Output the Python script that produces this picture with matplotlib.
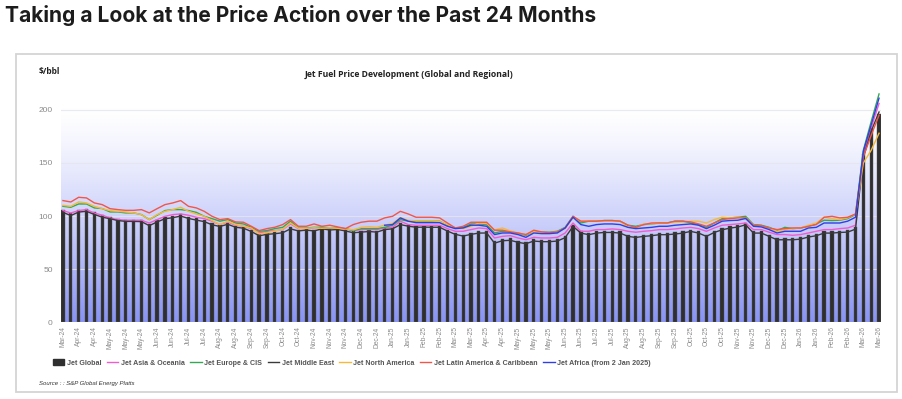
import numpy as np
import matplotlib
matplotlib.use("Agg")
import matplotlib.pyplot as plt
from matplotlib.patches import Rectangle
from matplotlib.lines import Line2D
from matplotlib.patches import Patch

# ---------------- data ----------------
tick_labels = ["Mar-24","Apr-24","Apr-24","May-24","May-24","May-24","Jun-24","Jun-24","Jul-24","Jul-24",
               "Aug-24","Aug-24","Sep-24","Sep-24","Oct-24","Oct-24","Nov-24","Nov-24","Nov-24","Dec-24",
               "Dec-24","Jan-25","Jan-25","Feb-25","Feb-25","Mar-25","Mar-25","Apr-25","Apr-25","May-25",
               "May-25","May-25","Jun-25","Jun-25","Jul-25","Jul-25","Aug-25","Aug-25","Sep-25","Sep-25",
               "Oct-25","Oct-25","Oct-25","Nov-25","Nov-25","Dec-25","Dec-25","Jan-26","Jan-26","Feb-26",
               "Feb-26","Mar-26","Mar-26"]

jet_global = [105.8, 102.6, 105.5, 106.5, 103.5, 101.1, 99.5, 97.5, 96.5, 96.5, 96.3, 92.3, 96.3, 99.3, 100.2,
              101.8, 99.3, 97.9, 96.3, 93.2, 91.7, 93.8, 91.0, 90.1, 87.0, 82.9,
              84.2, 84.8, 85.7, 89.4, 87.3, 88.2, 87.3, 89.4, 88.2, 88.8, 87.3, 85.7, 86.3, 86.9, 86.3, 88.8,
              89.4, 93.5, 92.0, 91.0, 91.0, 91.0, 91.0, 87.3, 84.2, 82.6, 84.2,
              85.7, 85.7, 76.3, 78.5, 78.9, 77.0, 75.7, 78.2, 77.6, 77.6, 78.2, 81.4, 92.0, 85.7, 84.2, 85.7,
              86.3, 86.3, 85.7, 82.6, 81.6, 82.6, 83.2, 84.2, 84.2, 84.8, 85.7,
              87.3, 85.7, 82.6, 86.3, 88.8, 90.4, 91.4, 93.5, 85.7, 85.7, 82.6, 79.4, 79.4, 79.4, 80.0, 82.0,
              83.2, 85.7, 85.7, 86.3, 86.6, 89.4, 158.0, 183.0, 196.0]

jet_asia = [105.2, 102.9, 105.2, 106.1, 102.9, 100.8, 98.3, 96.7, 96.1, 96.1, 96.1, 93.5, 96.7, 99.8, 101.4,
            102.0, 100.8, 98.9, 97.6, 95.2, 92.0, 94.5, 91.4, 90.4, 88.2, 84.1, 85.7,
            86.3, 87.3, 92.6, 88.2, 88.2, 88.8, 89.4, 88.2, 88.8, 88.2, 86.3, 87.3, 87.3, 87.3, 88.8, 89.4,
            95.2, 92.0, 91.4, 91.4, 91.4, 91.4, 88.2, 85.7, 85.7, 87.3,
            88.8, 88.2, 79.4, 80.9, 81.6, 79.4, 77.8, 80.0, 79.4, 79.4, 80.0, 84.1, 93.5, 85.7, 85.7, 87.3,
            87.3, 87.9, 87.3, 85.7, 84.8, 85.7, 86.3, 87.3, 87.3, 87.9, 88.8,
            89.4, 88.2, 85.7, 88.8, 91.4, 92.0, 92.6, 93.5, 87.3, 87.3, 84.8, 82.6, 82.6, 81.9, 82.6, 84.1,
            85.7, 87.3, 87.3, 88.2, 88.8, 91.4, 158.0, 183.0, 206.0]

jet_europe = [109.2, 108.3, 111.4, 111.4, 107.7, 107.1, 103.9, 103.9, 103.0, 103.0, 101.4, 96.7, 100.8, 105.2,
              106.1, 106.1, 105.2, 103.5, 99.8, 97.6, 95.2, 96.7, 93.5, 92.6, 89.4, 85.7, 86.3,
              88.2, 89.4, 95.2, 88.8, 88.8, 89.4, 89.4, 88.8, 88.8, 88.2, 86.3, 88.2, 88.2, 88.2, 89.4, 91.4,
              96.7, 95.2, 95.2, 95.2, 95.2, 95.2, 91.4, 88.8, 89.4, 92.6,
              92.6, 92.0, 84.1, 85.7, 85.1, 83.8, 81.9, 85.7, 84.8, 84.8, 85.7, 89.4, 99.8, 93.5, 95.2, 95.2,
              95.8, 95.8, 95.2, 91.4, 90.4, 92.0, 92.6, 93.5, 93.5, 95.2, 95.2,
              93.5, 92.0, 89.4, 93.5, 97.6, 98.3, 98.9, 99.8, 92.0, 91.4, 89.4, 86.3, 89.4, 88.2, 88.8, 90.4,
              92.6, 96.1, 95.8, 96.1, 97.6, 101.4, 162.0, 189.0, 215.0]

jet_middle_east = [103.5, 100.5, 103.8, 104.5, 101.5, 99.0, 97.5, 95.8, 95.0, 95.0, 94.8, 91.0, 94.5, 97.5,
                   98.5, 100.0, 97.8, 96.2, 94.8, 91.8, 90.2, 92.3, 89.5, 88.6, 85.5, 81.5,
                   82.8, 83.4, 84.3, 88.0, 86.0, 86.8, 86.0, 88.0, 86.9, 87.4, 86.0, 84.3, 84.9, 85.5, 84.9,
                   87.3, 88.0, 92.0, 90.5, 89.5, 89.6, 89.5, 89.5, 85.9, 82.8, 81.2, 82.8,
                   84.0, 84.1, 74.5, 76.8, 77.2, 75.3, 74.0, 76.5, 75.9, 75.9, 76.5, 79.7, 90.3, 84.0, 82.5,
                   84.0, 84.6, 84.6, 84.0, 80.9, 79.9, 80.9, 81.5, 82.5, 82.5, 83.1, 84.0,
                   85.6, 84.0, 80.9, 84.6, 87.1, 88.7, 89.7, 91.8, 84.0, 84.0, 80.9, 77.7, 77.7, 77.7, 78.3,
                   80.3, 81.5, 84.0, 84.0, 84.6, 84.9, 87.7, 155.0, 180.0, 198.0]

jet_north_america = [110.1, 109.2, 113.3, 112.4, 109.2, 107.0, 105.2, 104.5, 103.9, 103.0, 101.4, 96.7, 101.4,
                     104.5, 106.1, 108.3, 104.5, 102.0, 99.8, 95.8, 92.0, 95.2, 92.0, 90.4, 88.8, 83.2, 84.1,
                     86.0, 87.5, 93.5, 88.5, 88.5, 89.0, 88.5, 89.0, 88.5, 88.0, 87.0, 89.4, 90.0, 89.4, 91.5,
                     93.0, 98.6, 96.0, 95.5, 95.5, 95.5, 95.0, 92.0, 88.8, 88.2, 90.4,
                     93.5, 93.0, 87.0, 88.8, 86.0, 84.1, 82.6, 85.5, 84.5, 84.5, 85.1, 88.5, 98.3, 95.2, 95.2,
                     95.2, 95.5, 95.5, 95.2, 89.5, 89.0, 92.6, 92.8, 93.2, 93.5, 94.2, 94.5,
                     95.2, 95.2, 93.5, 96.7, 98.9, 98.3, 98.9, 98.3, 91.4, 90.4, 88.8, 85.7, 87.3, 88.2, 88.8,
                     91.4, 93.5, 98.9, 97.6, 96.7, 98.3, 102.0, 150.0, 162.0, 178.0]

jet_latin_america = [114.6, 113.3, 117.7, 117.1, 112.4, 110.8, 107.0, 106.1, 105.4, 105.4, 106.1, 103.0, 107.0,
                     110.8, 112.4, 114.6, 109.2, 107.7, 104.5, 99.8, 96.7, 97.6, 94.5, 94.2, 90.4, 86.3, 88.2,
                     89.5, 92.0, 96.7, 90.4, 90.4, 92.6, 90.4, 91.4, 89.8, 88.2, 92.0, 94.2, 95.2, 95.2, 98.3,
                     99.8, 104.5, 102.0, 98.9, 98.9, 98.9, 98.3, 93.5, 88.8, 90.4, 94.2,
                     94.2, 94.2, 86.7, 86.7, 85.1, 84.1, 82.6, 86.7, 85.1, 84.4, 85.1, 88.8, 99.8, 95.2, 95.2,
                     95.2, 95.8, 95.8, 95.2, 91.4, 89.4, 92.0, 93.5, 93.5, 93.5, 95.2, 95.2,
                     94.5, 92.6, 90.4, 93.5, 96.7, 97.6, 98.3, 98.3, 91.4, 91.1, 88.8, 87.3, 88.2, 88.8, 88.8,
                     90.4, 92.0, 98.9, 99.8, 98.3, 98.9, 102.0, 156.0, 176.0, 195.0]

jet_africa = [None] * 41 + [
    91.4, 92.0, 98.3, 95.2, 93.8, 93.8, 93.8, 93.8, 90.4, 88.2, 88.8, 91.4,
    91.4, 90.4, 82.6, 84.1, 84.1, 82.6, 80.0, 84.1, 83.5, 83.5, 84.1, 88.8, 98.9, 92.0, 90.4, 92.0,
    92.6, 92.6, 92.0, 89.4, 88.2, 88.8, 89.4, 90.4, 90.4, 91.4, 92.0,
    92.6, 91.4, 88.2, 91.4, 95.2, 95.8, 96.1, 97.7, 90.4, 89.8, 87.3, 84.1, 85.7, 85.7, 85.7, 88.8,
    89.4, 93.5, 93.5, 93.5, 95.2, 98.9, 161.0, 186.0, 211.0]

series = [
    ("Jet Asia & Oceania", jet_asia, "#f25ccf"),
    ("Jet Europe & CIS", jet_europe, "#34a853"),
    ("Jet Middle East", jet_middle_east, "#3a3a3a"),
    ("Jet North America", jet_north_america, "#f6b93b"),
    ("Jet Latin America & Caribbean", jet_latin_america, "#f0564a"),
    ("Jet Africa (from 2 Jan 2025)", jet_africa, "#2f3fe6"),
]

# ---------------- figure ----------------
W, H = 902, 399
fig = plt.figure(figsize=(W / 100, H / 100), dpi=100)
fig.patch.set_facecolor("white")

def fx(px):
    return px / W

def fy(py):
    return 1 - py / H

# page title
fig.text(fx(5), fy(16), "Taking a Look at the Price Action over the Past 24 Months",
         fontsize=15.1, fontweight="bold", family="Inter", color="#1c1c1c", va="center", ha="left")

# chart card frame
card = Rectangle((fx(16), fy(392)), fx(897) - fx(16), fy(54) - fy(392), transform=fig.transFigure,
                 facecolor="white", edgecolor="#d4d4d4", linewidth=1.3, zorder=-5)
fig.patches.append(card)

fig.text(fx(39), fy(71), "$/bbl", fontsize=6, fontweight="bold", family="Open Sans",
         color="#222222", va="center", ha="left")
fig.text(fx(409), fy(74), "Jet Fuel Price Development (Global and Regional)", fontsize=6.2,
         fontweight="bold", family="Open Sans", color="#222222", va="center", ha="center")

# axes
left, right, top, bottom = 61, 881, 100, 322.3
ax = fig.add_axes([fx(left), fy(bottom), fx(right) - fx(left), fy(top) - fy(bottom)])
ax.set_zorder(2)
ax.patch.set_alpha(0)
n = len(jet_global)
x = np.arange(n)
ymax = 209.3
ax.set_xlim(-0.25, n - 1 + 0.25)
ax.set_ylim(0, ymax)

# gradient background: white above 200, deepening towards 0
vals_y = np.linspace(ymax, 0, 400)
t = np.clip((200 - vals_y) / 200, 0, 1) ** 1.3
top_c = np.array([1.0, 1.0, 1.0])
bot_c = np.array([136, 147, 244]) / 255
img = top_c[None, None, :] * (1 - t[:, None, None]) + bot_c[None, None, :] * t[:, None, None]
ax.imshow(img, extent=[-0.25, n - 1 + 0.25, 0, ymax], aspect="auto", origin="upper", zorder=0)

for gy in [50, 100, 150, 200]:
    ax.axhline(gy, color="#e6e6ee", lw=0.8, zorder=1, alpha=0.85)

ax.bar(x, jet_global, width=0.42, color="#2f2f2f", edgecolor="#5a5a5a", linewidth=0.3, zorder=2)

for name, vals, col in series:
    v = np.array([np.nan if a is None else a for a in vals], dtype=float)
    ax.plot(x, v, color=col, lw=1.0, zorder=3, clip_on=False, solid_joinstyle="round")

for s in ax.spines.values():
    s.set_visible(False)
ax.set_yticks([0, 50, 100, 150, 200])
ax.set_yticklabels(["0", "50", "100", "150", "200"])
ax.set_xticks(x[::2])
ax.set_xticklabels(tick_labels, rotation=90)
ax.tick_params(axis="y", length=0, pad=6, labelsize=6, labelcolor="#8a8a8a")
ax.tick_params(axis="x", length=0, pad=3, labelsize=4.8, labelcolor="#8a8a8a")
for tl in ax.get_yticklabels() + ax.get_xticklabels():
    tl.set_family("Liberation Sans")

# legend
handles = [Patch(facecolor="#2f2f2f", edgecolor="#2f2f2f", label="Jet Global")]
for name, vals, col in series:
    handles.append(Line2D([0], [0], color=col, lw=1.0, label=name))
leg = fig.legend(handles=handles, loc="center", bbox_to_anchor=(fx(352), fy(363)), ncol=7,
                 frameon=False, handlelength=1.6, handleheight=0.9,
                 handletextpad=0.4, columnspacing=0.75,
                 prop={"family": "Liberation Sans", "weight": "bold", "size": 5.1})
for tl in leg.get_texts():
    tl.set_color("#555555")

fig.text(fx(39), fy(384), "Source : : S&P Global Energy Platts", fontsize=4.3, style="italic",
         family="Liberation Sans", color="#333333", va="center", ha="left")

fig.savefig("out.png", dpi=100)
